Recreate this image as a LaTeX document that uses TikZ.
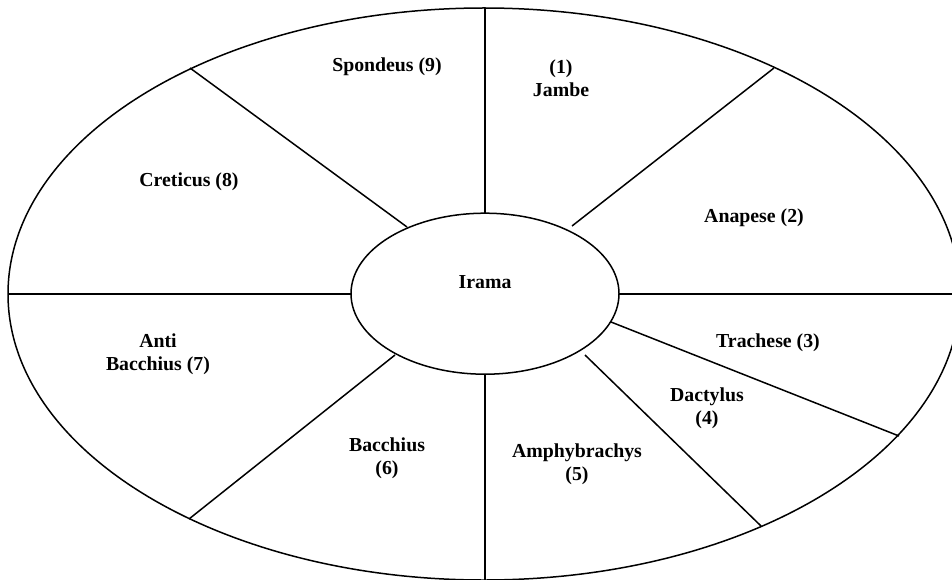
\documentclass[tikz,border=0pt]{standalone}
\usepackage{fontspec}
\setmainfont{Liberation Serif}
\usetikzlibrary{shapes.geometric}
\tikzset{
  ring/.style={
    draw,
    ellipse,
    line width=1.5pt,
    inner sep=0pt
  },
  spoke/.style={
    line width=1.5pt
  },
  footlabel/.style={
    align=center,
    font=\fontsize{19.8}{23}\selectfont\bfseries,
    inner sep=0pt
  }
}
\begin{document}
\begin{tikzpicture}[x=1pt,y=-1pt]
    \useasboundingbox (0,0) rectangle (952,580);

    \node[ring, minimum width=952, minimum height=572] (wheel) at (484,294) {};
    \node[ring, minimum width=268, minimum height=161] (irama) at (485,293.7) {};
    \node[footlabel] (iramatext) at (485,282) {Irama};

    % ends of the spokes on the outer ring
    \coordinate (otop) at (485,8);
    \coordinate (otopright) at (774,68);
    \coordinate (oright) at (952,294);
    \coordinate (otrach) at (899,436);
    \coordinate (odact) at (761,526);
    \coordinate (obottom) at (485,580);
    \coordinate (obacch) at (189,519);
    \coordinate (oleft) at (8,294);
    \coordinate (otopleft) at (190,68);

    % ends of the spokes on the inner ring
    \coordinate (itop) at (485,213.3);
    \coordinate (itopright) at (572,226);
    \coordinate (iright) at (619,294);
    \coordinate (itrach) at (611,322);
    \coordinate (idact) at (585,355);
    \coordinate (ibottom) at (485,374);
    \coordinate (ibacch) at (395,355);
    \coordinate (ileft) at (350.7,294);
    \coordinate (itopleft) at (407,227);

    \draw[spoke] (itop) -- (otop);
    \draw[spoke] (itopright) -- (otopright);
    \draw[spoke] (iright) -- (oright);
    \draw[spoke] (itrach) -- (otrach);
    \draw[spoke] (idact) -- (odact);
    \draw[spoke] (ibottom) -- (obottom);
    \draw[spoke] (ibacch) -- (obacch);
    \draw[spoke] (ileft) -- (oleft);
    \draw[spoke] (itopleft) -- (otopleft);

    \node[footlabel] (jambe) at (561,78) {(1)\\Jambe};
    \node[footlabel] (anapese) at (754,218) {Anapese (2)};
    \node[footlabel] (trachese) at (768,343) {Trachese (3)};
    \node[footlabel] (dactylus) at (707,408) {Dactylus\\(4)};
    \node[footlabel] (amphy) at (577,464) {Amphybrachys\\(5)};
    \node[footlabel] (bacchius) at (387,458) {Bacchius\\(6)};
    \node[footlabel] (antibacch) at (158,354) {Anti\\Bacchius (7)};
    \node[footlabel] (creticus) at (189,182) {Creticus (8)};
    \node[footlabel] (spondeus) at (387,67) {Spondeus (9)};
\end{tikzpicture}
\end{document}
